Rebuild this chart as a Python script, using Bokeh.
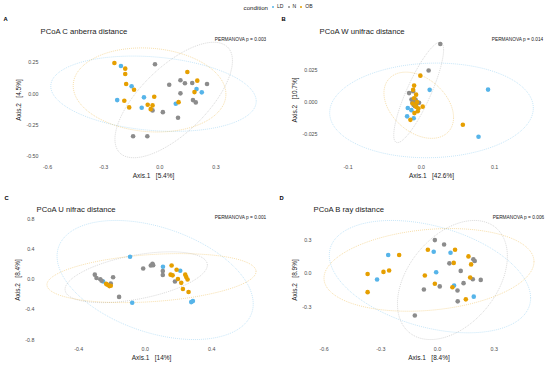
import numpy as np
from bokeh.plotting import figure
from bokeh.models import (Range1d, FixedTicker, PrintfTickFormatter, Label, Title,
                          Legend, LegendItem)
from bokeh.layouts import column, row
from bokeh.embed import file_html
from bokeh.resources import INLINE

FONT = "Liberation Sans"
groups = ["LD", "N", "OB"]
group_colors = ["#56B4E9", "#8C8C8C", "#E69F00"]

# ---------------- Panel A : Canberra ----------------
a_title = "PCoA C anberra distance"
a_perm = "PERMANOVA p = 0.003"
a_xlab = "Axis.1\u00a0\u00a0\u00a0[5.4%]"
a_ylab = "Axis.2\u00a0\u00a0\u00a0[4.5%]"
a_xticks = [-0.6, -0.3, 0.0, 0.3]
a_yticks = [-0.50, -0.25, 0.00, 0.25]
a_ld_x = [-0.208, -0.151, -0.228, -0.085, -0.097, 0.085, 0.196, 0.224]
a_ld_y = [0.221, 0.059, -0.051, -0.029, -0.112, -0.080, 0.037, 0.011]
a_n_x = [-0.026, 0.050, 0.110, 0.134, 0.173, 0.252, 0.110, 0.177, 0.192, -0.039, 0.016, 0.097, -0.143, -0.067]
a_n_y = [0.235, 0.072, 0.107, 0.083, 0.085, 0.077, 0.003, -0.051, -0.069, -0.133, -0.147, -0.192, -0.339, -0.339]
a_ob_x = [-0.243, -0.185, -0.185, -0.180, -0.138, -0.190, -0.164, -0.030, -0.065, -0.039, -0.049, 0.147, 0.200, 0.185, 0.100]
a_ob_y = [0.245, 0.200, 0.157, 0.077, 0.032, -0.056, -0.109, -0.024, -0.088, -0.093, -0.123, 0.173, 0.104, 0.013, -0.067]
# ellipse (LD, N, OB): centre, half-extents, tilt
a_ell_cx = [-0.034, 0.074, -0.055]
a_ell_cy = [0.000, -0.050, 0.030]
a_ell_rx = [0.549, 0.314, 0.408]
a_ell_ry = [0.300, 0.460, 0.335]
a_ell_tilt = [-0.20, 0.68, -0.10]

# ---------------- Panel B : weighted UniFrac ----------------
b_title = "PCoA W unifrac distance"
b_perm = "PERMANOVA p = 0.014"
b_xlab = "Axis.1\u00a0\u00a0\u00a0[42.6%]"
b_ylab = "Axis.2\u00a0\u00a0\u00a0[10.7%]"
b_xticks = [-0.1, 0.0, 0.1]
b_yticks = [-0.025, 0.000, 0.025]
b_ld_x = [0.0113, 0.0910, 0.0780, -0.0186, -0.0136, -0.0195, -0.0105]
b_ld_y = [0.0095, 0.0097, -0.0268, -0.0045, -0.0062, -0.0110, -0.0125]
b_n_x = [0.0258, 0.0099, -0.0168, -0.0113, -0.0095, -0.0068, -0.0032, -0.0122, -0.0105, -0.0080, -0.0110, -0.0075, -0.0090, -0.0135]
b_n_y = [0.0450, 0.0245, 0.0070, 0.0085, 0.0008, 0.0002, -0.0005, -0.0005, -0.0022, 0.0020, 0.0015, -0.0015, -0.0030, 0.0020]
b_ob_x = [-0.0014, -0.0099, -0.0113, -0.0072, 0.0566, 0.0018, -0.0068, -0.0050, -0.0095, -0.0150, -0.0082, -0.0060, -0.0120, -0.0040, -0.0100]
b_ob_y = [0.0205, 0.0128, 0.0095, 0.0058, -0.0175, -0.0035, -0.0037, -0.0070, -0.0085, -0.0137, -0.0030, 0.0000, -0.0010, -0.0050, 0.0030]
b_ell_cx = [0.0138, -0.0037, -0.0036]
b_ell_cy = [-0.0064, 0.0075, -0.0024]
b_ell_rx = [0.1390, 0.0340, 0.0475]
b_ell_ry = [0.0366, 0.0388, 0.0256]
b_ell_tilt = [0.05, 0.85, -0.37]

# ---------------- Panel C : unweighted UniFrac ----------------
c_title = "PCoA U nifrac distance"
c_perm = "PERMANOVA p = 0.001"
c_xlab = "Axis.1\u00a0\u00a0\u00a0[14%]"
c_ylab = "Axis.2\u00a0\u00a0\u00a0[8.4%]"
c_xticks = [-0.4, 0.0, 0.4]
c_yticks = [-0.8, -0.4, 0.0, 0.4, 0.8]
c_ld_x = [-0.091, -0.078, 0.107, 0.211, 0.277, 0.287, -0.253]
c_ld_y = [0.299, -0.312, 0.165, 0.113, -0.303, -0.290, -0.030]
c_n_x = [-0.303, -0.293, -0.270, -0.262, -0.193, -0.207, -0.157, -0.012, 0.034, 0.044, 0.048, 0.106, 0.106, 0.179]
c_n_y = [0.061, 0.017, 0.000, -0.020, 0.026, -0.056, -0.234, 0.143, 0.182, 0.204, 0.186, 0.108, 0.056, -0.030]
c_ob_x = [-0.235, -0.227, -0.215, -0.207, 0.159, 0.153, 0.165, 0.189, 0.197, 0.217, 0.241, 0.247, 0.255, 0.227, 0.261]
c_ob_y = [-0.061, -0.074, -0.091, -0.087, 0.182, 0.061, 0.052, 0.126, 0.004, -0.048, 0.061, 0.030, -0.004, -0.130, -0.169]
c_ell_cx = [0.060, -0.054, 0.038]
c_ell_cy = [-0.010, 0.027, 0.015]
c_ell_rx = [0.590, 0.428, 0.629]
c_ell_ry = [0.790, 0.337, 0.325]
c_ell_tilt = [-0.40, 0.48, 0.27]

# ---------------- Panel D : Bray-Curtis ----------------
d_title = "PCoA B ray distance"
d_perm = "PERMANOVA p = 0.006"
d_xlab = "Axis.1\u00a0\u00a0\u00a0[8.4%]"
d_ylab = "Axis.2\u00a0\u00a0\u00a0[8.9%]"
d_xticks = [-0.6, -0.3, 0.0, 0.3]
d_yticks = [-0.3, 0.0, 0.3]
d_ld_x = [-0.261, -0.320, -0.020, -0.007, 0.069, 0.088, 0.192]
d_ld_y = [0.162, -0.056, 0.191, 0.009, 0.183, -0.109, -0.208]
d_n_x = [-0.014, 0.035, 0.063, 0.123, 0.190, 0.197, 0.187, 0.229, 0.138, 0.106, 0.107, 0.012, -0.072, -0.120]
d_n_y = [0.295, 0.256, 0.088, 0.021, 0.124, 0.109, -0.053, -0.059, -0.088, -0.153, -0.250, -0.117, -0.144, -0.376]
d_ob_x = [-0.203, -0.370, -0.370, -0.286, -0.256, -0.051, -0.067, -0.014, 0.079, 0.086, 0.093, 0.164, 0.178, 0.173, 0.150]
d_ob_y = [0.162, -0.006, -0.168, 0.012, 0.024, 0.209, -0.020, -0.094, -0.124, 0.092, 0.209, 0.150, 0.079, -0.038, -0.232]
d_ell_cx = [-0.040, 0.079, -0.045]
d_ell_cy = [-0.030, -0.060, 0.030]
d_ell_rx = [0.533, 0.291, 0.556]
d_ell_ry = [0.500, 0.530, 0.368]
d_ell_tilt = [-0.38, 0.40, 0.20]


def ellipse_curve(cx, cy, rx, ry, tilt, n=240):
    t = np.linspace(0, 2 * np.pi, n)
    s = np.sqrt(1 - tilt ** 2)
    return cx + rx * np.cos(t), cy + ry * (tilt * np.cos(t) + s * np.sin(t))


def make_panel(letter, title, perm, xlab, ylab, xs, ys, ecx, ecy, erx, ery, etilt,
               xticks, yticks, xfmt, yfmt, W, H, bl, br, bt, bb,
               letter_off, letter_standoff, title_standoff):
    curves = [ellipse_curve(ecx[i], ecy[i], erx[i], ery[i], etilt[i]) for i in range(3)]
    allx = np.concatenate([c[0] for c in curves] + [np.asarray(v) for v in xs])
    ally = np.concatenate([c[1] for c in curves] + [np.asarray(v) for v in ys])
    xpad = 0.05 * (allx.max() - allx.min())
    ypad = 0.05 * (ally.max() - ally.min())
    x0, x1 = allx.min() - xpad, allx.max() + xpad
    y0, y1 = ally.min() - ypad, ally.max() + ypad

    p = figure(width=W, height=H, x_range=Range1d(x0, x1), y_range=Range1d(y0, y1),
               output_backend="svg", toolbar_location=None, title=None,
               min_border_left=bl, min_border_right=br, min_border_top=bt,
               min_border_bottom=bb)
    p.outline_line_color = None
    p.grid.visible = False
    p.background_fill_color = "white"
    p.border_fill_color = "white"

    for i in range(3):
        p.line(curves[i][0], curves[i][1], line_color=group_colors[i],
               line_dash="1 1", line_width=0.8, line_alpha=0.42)
    for i in range(3):
        p.scatter(xs[i], ys[i], size=4.6, fill_color=group_colors[i], line_color=None)

    for ax, ticks, fmt, lab in ((p.xaxis, xticks, xfmt, xlab), (p.yaxis, yticks, yfmt, ylab)):
        ax.ticker = FixedTicker(ticks=ticks)
        ax.formatter = PrintfTickFormatter(format=fmt)
        ax.axis_label = lab
        ax.axis_line_color = None
        ax.major_tick_line_color = None
        ax.minor_tick_line_color = None
        ax.major_tick_out = 0
        ax.major_tick_in = 0
        ax.major_label_text_font = FONT
        ax.major_label_text_font_size = "5.3px"
        ax.major_label_text_color = "#4D4D4D"
        ax.axis_label_text_font = FONT
        ax.axis_label_text_font_size = "6.5px"
        ax.axis_label_text_font_style = "normal"
        ax.axis_label_text_color = "#1A1A1A"
    p.xaxis.major_label_standoff = 1
    p.xaxis.axis_label_standoff = 0
    p.yaxis.major_label_standoff = 2
    p.yaxis.axis_label_standoff = 1

    p.add_layout(Label(x=x1, y=y1, text=perm, text_align="right", text_baseline="middle",
                       y_offset=-3, text_font=FONT, text_font_size="4.8px",
                       text_color="#1A1A1A"))

    p.add_layout(Title(text=title, align="left", offset=0, standoff=title_standoff,
                       text_font=FONT, text_font_size="7.7px", text_font_style="normal",
                       text_color="#1A1A1A"), "above")
    p.add_layout(Title(text=letter, align="left", offset=letter_off, standoff=letter_standoff,
                       text_font=FONT, text_font_size="5.8px", text_font_style="bold",
                       text_color="#000000"), "above")
    return p


pA = make_panel("A", a_title, a_perm, a_xlab, a_ylab,
                [a_ld_x, a_n_x, a_ob_x], [a_ld_y, a_n_y, a_ob_y],
                a_ell_cx, a_ell_cy, a_ell_rx, a_ell_ry, a_ell_tilt,
                a_xticks, a_yticks, "%.1f", "%.2f",
                275, 176, 40, 9, 23, 25, -37, 3, 2)
pB = make_panel("B", b_title, b_perm, b_xlab, b_ylab,
                [b_ld_x, b_n_x, b_ob_x], [b_ld_y, b_n_y, b_ob_y],
                b_ell_cx, b_ell_cy, b_ell_rx, b_ell_ry, b_ell_tilt,
                b_xticks, b_yticks, "%.1f", "%.3f",
                275, 176, 44, 7, 23, 25, -38, 3, 2)
pC = make_panel("C", c_title, c_perm, c_xlab, c_ylab,
                [c_ld_x, c_n_x, c_ob_x], [c_ld_y, c_n_y, c_ob_y],
                c_ell_cx, c_ell_cy, c_ell_rx, c_ell_ry, c_ell_tilt,
                c_xticks, c_yticks, "%.1f", "%.1f",
                275, 178, 36, 9, 26, 21, -32, 3, 1)
pD = make_panel("D", d_title, d_perm, d_xlab, d_ylab,
                [d_ld_x, d_n_x, d_ob_x], [d_ld_y, d_n_y, d_ob_y],
                d_ell_cx, d_ell_cy, d_ell_rx, d_ell_ry, d_ell_tilt,
                d_xticks, d_yticks, "%.1f", "%.1f",
                275, 178, 38, 6, 26, 21, -34, 3, 1)

# ---------------- shared legend strip ----------------
lg = figure(width=550, height=12, x_range=Range1d(0, 550), y_range=Range1d(0, 12),
            output_backend="svg", toolbar_location=None, title=None,
            x_axis_location=None, y_axis_location=None,
            min_border_left=0, min_border_right=0, min_border_top=0, min_border_bottom=0)
lg.outline_line_color = None
lg.grid.visible = False
rends = [lg.scatter(x=[np.nan], y=[np.nan], size=4.6, fill_color=c, line_color=None)
         for c in group_colors]
legend = Legend(items=[LegendItem(label=g, renderers=[r]) for g, r in zip(groups, rends)],
                orientation="horizontal", location=(270, 3),
                glyph_width=5, glyph_height=5, label_standoff=2, spacing=2,
                label_width=0, label_height=5, padding=0, margin=0,
                border_line_color=None, background_fill_alpha=0,
                label_text_font=FONT, label_text_font_size="5.1px",
                label_text_color="#1A1A1A")
lg.add_layout(legend)
lg.add_layout(Label(x=267.5, y=5.5, text="condition", text_align="right",
                    text_baseline="middle", text_font=FONT, text_font_size="6.1px",
                    text_color="#1A1A1A"))

layout = column(lg, row(pA, pB), row(pC, pD))
open("out.html", "w").write(file_html(layout, INLINE))
